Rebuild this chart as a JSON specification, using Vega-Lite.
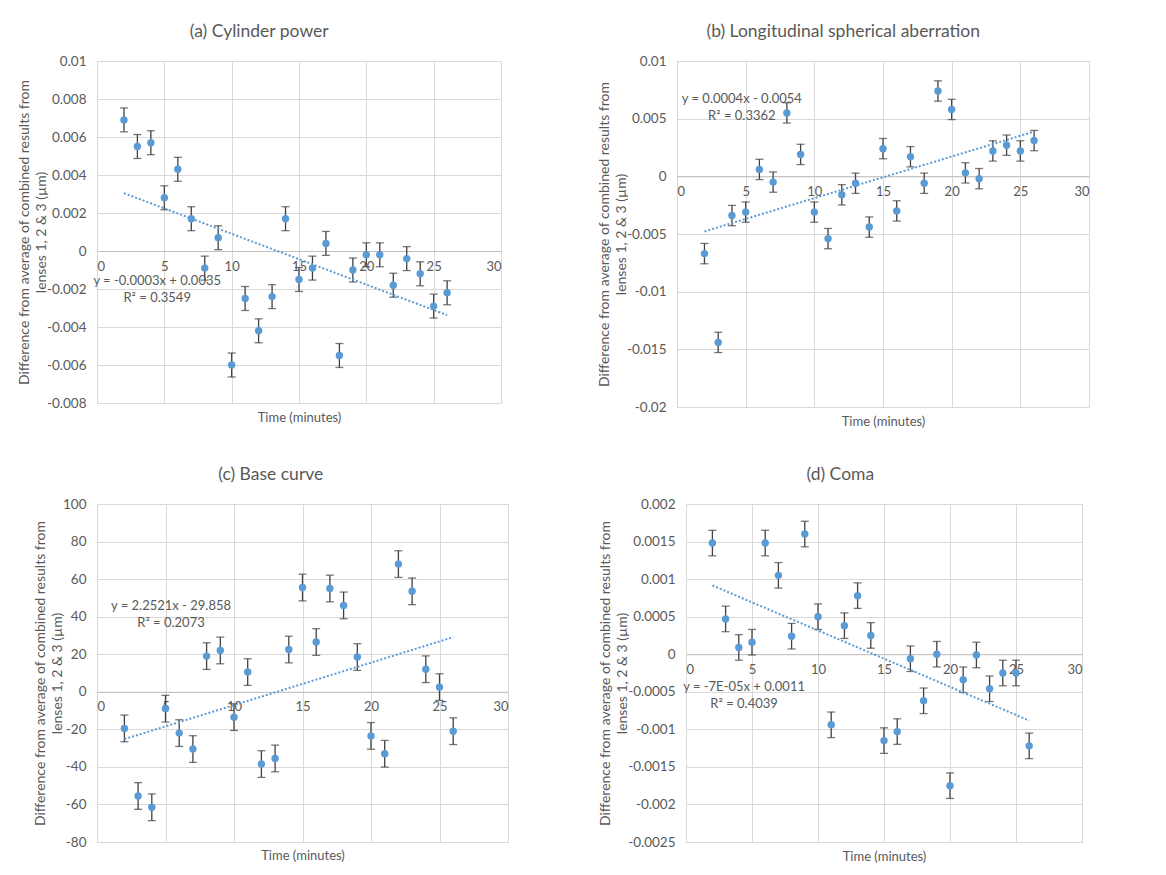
{
  "$schema": "https://vega.github.io/schema/vega-lite/v6.json",
  "background": "white",
  "padding": {"left": 16, "top": 22, "right": 5, "bottom": 5},
  "datasets": {
    "a": [
      {"t": 2, "v": 0.0069, "e": 0.00063}, {"t": 3, "v": 0.0055, "e": 0.00063}, {"t": 4, "v": 0.0057, "e": 0.00063},
      {"t": 5, "v": 0.0028, "e": 0.00063}, {"t": 6, "v": 0.0043, "e": 0.00063}, {"t": 7, "v": 0.0017, "e": 0.00063},
      {"t": 8, "v": -0.0009, "e": 0.00063}, {"t": 9, "v": 0.0007, "e": 0.00063}, {"t": 10, "v": -0.006, "e": 0.00063},
      {"t": 11, "v": -0.0025, "e": 0.00063}, {"t": 12, "v": -0.0042, "e": 0.00063}, {"t": 13, "v": -0.0024, "e": 0.00063},
      {"t": 14, "v": 0.0017, "e": 0.00063}, {"t": 15, "v": -0.0015, "e": 0.00063}, {"t": 16, "v": -0.0009, "e": 0.00063},
      {"t": 17, "v": 0.0004, "e": 0.00063}, {"t": 18, "v": -0.0055, "e": 0.00063}, {"t": 19, "v": -0.001, "e": 0.00063},
      {"t": 20, "v": -0.0002, "e": 0.00063}, {"t": 21, "v": -0.0002, "e": 0.00063}, {"t": 22, "v": -0.0018, "e": 0.00063},
      {"t": 23, "v": -0.0004, "e": 0.00063}, {"t": 24, "v": -0.0012, "e": 0.00063}, {"t": 25, "v": -0.0029, "e": 0.00063},
      {"t": 26, "v": -0.0022, "e": 0.00063}
    ],
    "b": [
      {"t": 2, "v": -0.0067, "e": 0.00088}, {"t": 3, "v": -0.0144, "e": 0.00088}, {"t": 4, "v": -0.0034, "e": 0.00088},
      {"t": 5, "v": -0.0031, "e": 0.00088}, {"t": 6, "v": 0.0006, "e": 0.00088}, {"t": 7, "v": -0.0005, "e": 0.00088},
      {"t": 8, "v": 0.0055, "e": 0.00088}, {"t": 9, "v": 0.0019, "e": 0.00088}, {"t": 10, "v": -0.0031, "e": 0.00088},
      {"t": 11, "v": -0.0054, "e": 0.00088}, {"t": 12, "v": -0.0016, "e": 0.00088}, {"t": 13, "v": -0.0006, "e": 0.00088},
      {"t": 14, "v": -0.0044, "e": 0.00088}, {"t": 15, "v": 0.0024, "e": 0.00088}, {"t": 16, "v": -0.003, "e": 0.00088},
      {"t": 17, "v": 0.0017, "e": 0.00088}, {"t": 18, "v": -0.0006, "e": 0.00088}, {"t": 19, "v": 0.0074, "e": 0.00088},
      {"t": 20, "v": 0.0058, "e": 0.00088}, {"t": 21, "v": 0.0003, "e": 0.00088}, {"t": 22, "v": -0.0002, "e": 0.00088},
      {"t": 23, "v": 0.0022, "e": 0.00088}, {"t": 24, "v": 0.0027, "e": 0.00088}, {"t": 25, "v": 0.0022, "e": 0.00088},
      {"t": 26, "v": 0.0031, "e": 0.00088}
    ],
    "c": [
      {"t": 2, "v": -19.5, "e": 7.1}, {"t": 3, "v": -55.5, "e": 7.1}, {"t": 4, "v": -61.5, "e": 7.1},
      {"t": 5, "v": -9, "e": 7.1}, {"t": 6, "v": -22, "e": 7.1}, {"t": 7, "v": -30.5, "e": 7.1},
      {"t": 8, "v": 19, "e": 7.1}, {"t": 9, "v": 22, "e": 7.1}, {"t": 10, "v": -13.5, "e": 7.1},
      {"t": 11, "v": 10.5, "e": 7.1}, {"t": 12, "v": -38.5, "e": 7.1}, {"t": 13, "v": -35.5, "e": 7.1},
      {"t": 14, "v": 22.5, "e": 7.1}, {"t": 15, "v": 55.5, "e": 7.1}, {"t": 16, "v": 26.5, "e": 7.1},
      {"t": 17, "v": 55, "e": 7.1}, {"t": 18, "v": 46, "e": 7.1}, {"t": 19, "v": 18.5, "e": 7.1},
      {"t": 20, "v": -23.5, "e": 7.1}, {"t": 21, "v": -33, "e": 7.1}, {"t": 22, "v": 68, "e": 7.1},
      {"t": 23, "v": 53.5, "e": 7.1}, {"t": 24, "v": 12, "e": 7.1}, {"t": 25, "v": 2.5, "e": 7.1},
      {"t": 26, "v": -21, "e": 7.1}
    ],
    "d": [
      {"t": 2, "v": 0.00148, "e": 0.00017}, {"t": 3, "v": 0.00047, "e": 0.00017}, {"t": 4, "v": 0.00009, "e": 0.00017},
      {"t": 5, "v": 0.00016, "e": 0.00017}, {"t": 6, "v": 0.00148, "e": 0.00017}, {"t": 7, "v": 0.00105, "e": 0.00017},
      {"t": 8, "v": 0.00024, "e": 0.00017}, {"t": 9, "v": 0.0016, "e": 0.00017}, {"t": 10, "v": 0.0005, "e": 0.00017},
      {"t": 11, "v": -0.00094, "e": 0.00017}, {"t": 12, "v": 0.00038, "e": 0.00017}, {"t": 13, "v": 0.00078, "e": 0.00017},
      {"t": 14, "v": 0.00025, "e": 0.00017}, {"t": 15, "v": -0.00115, "e": 0.00017}, {"t": 16, "v": -0.00103, "e": 0.00017},
      {"t": 17, "v": -0.00006, "e": 0.00017}, {"t": 18, "v": -0.00062, "e": 0.00017}, {"t": 19, "v": 0.0, "e": 0.00017},
      {"t": 20, "v": -0.00175, "e": 0.00017}, {"t": 21, "v": -0.00034, "e": 0.00017}, {"t": 22, "v": -0.00001, "e": 0.00017},
      {"t": 23, "v": -0.00046, "e": 0.00017}, {"t": 24, "v": -0.00025, "e": 0.00017}, {"t": 25, "v": -0.00025, "e": 0.00017},
      {"t": 26, "v": -0.00122, "e": 0.00017}
    ],
    "one": [{"k": 1}]
  },
  "vconcat": [
    {
      "spacing": 94,
      "hconcat": [
        {
          "width": 404, "height": 342,
          "title": "(a) Cylinder power",
          "layer": [
            {"data": {"name": "a"}, "mark": {"type": "errorbar", "ticks": {"size": 8, "thickness": 1.3}, "color": "#404040", "thickness": 1.3},
              "encoding": {
                "x": {"field": "t", "type": "quantitative", "scale": {"domain": [0, 30]},
                  "axis": {"values": [0, 5, 10, 15, 20, 25, 30], "offset": -152, "domain": true, "title": "Time (minutes)", "titleBaseline": "middle", "titleY": 166}},
                "y": {"field": "v", "type": "quantitative", "scale": {"domain": [-0.008, 0.01]},
                  "axis": {"values": [-0.008, -0.006, -0.004, -0.002, 0, 0.002, 0.004, 0.006, 0.008, 0.01], "title": ["Difference from average of combined results from", "lenses 1, 2 & 3 (µm)"]}},
                "yError": {"field": "e"}}},
            {"data": {"name": "a"}, "mark": {"type": "point", "filled": true, "opacity": 1, "size": 55, "color": "#5B9BD5"},
              "encoding": {"x": {"field": "t", "type": "quantitative"}, "y": {"field": "v", "type": "quantitative"}}},
            {"data": {"name": "a"}, "transform": [{"regression": "v", "on": "t"}], "mark": {"type": "line", "color": "#5B9BD5", "strokeDash": [2, 2], "strokeWidth": 2},
              "encoding": {"x": {"field": "t", "type": "quantitative"}, "y": {"field": "v", "type": "quantitative"}}},
            {"data": {"name": "one"}, "mark": {"type": "text", "fontSize": 13, "color": "#595959", "lineHeight": 17, "text": ["y = -0.0003x + 0.0035", "R² = 0.3549"]},
              "encoding": {"x": {"datum": 4.47}, "y": {"datum": -0.0016}}}
          ]
        },
        {
          "width": 412, "height": 346,
          "title": "(b) Longitudinal spherical aberration",
          "layer": [
            {"data": {"name": "b"}, "mark": {"type": "errorbar", "ticks": {"size": 8, "thickness": 1.3}, "color": "#404040", "thickness": 1.3},
              "encoding": {
                "x": {"field": "t", "type": "quantitative", "scale": {"domain": [0, 30]},
                  "axis": {"values": [0, 5, 10, 15, 20, 25, 30], "offset": -230.7, "domain": true, "title": "Time (minutes)", "titleBaseline": "middle", "titleY": 245}},
                "y": {"field": "v", "type": "quantitative", "scale": {"domain": [-0.02, 0.01]},
                  "axis": {"values": [-0.02, -0.015, -0.01, -0.005, 0, 0.005, 0.01], "title": ["Difference from average of combined results from", "lenses 1, 2 & 3 (µm)"]}},
                "yError": {"field": "e"}}},
            {"data": {"name": "b"}, "mark": {"type": "point", "filled": true, "opacity": 1, "size": 55, "color": "#5B9BD5"},
              "encoding": {"x": {"field": "t", "type": "quantitative"}, "y": {"field": "v", "type": "quantitative"}}},
            {"data": {"name": "b"}, "transform": [{"regression": "v", "on": "t"}], "mark": {"type": "line", "color": "#5B9BD5", "strokeDash": [2, 2], "strokeWidth": 2},
              "encoding": {"x": {"field": "t", "type": "quantitative"}, "y": {"field": "v", "type": "quantitative"}}},
            {"data": {"name": "one"}, "mark": {"type": "text", "fontSize": 13, "color": "#595959", "lineHeight": 17, "text": ["y = 0.0004x - 0.0054", "R² = 0.3362"]},
              "encoding": {"x": {"datum": 4.72}, "y": {"datum": 0.0067}}}
          ]
        }
      ]
    },
    {
      "spacing": 89,
      "hconcat": [
        {
          "width": 411, "height": 338,
          "title": "(c) Base curve",
          "layer": [
            {"data": {"name": "c"}, "mark": {"type": "errorbar", "ticks": {"size": 8, "thickness": 1.3}, "color": "#404040", "thickness": 1.3},
              "encoding": {
                "x": {"field": "t", "type": "quantitative", "scale": {"domain": [0, 30]},
                  "axis": {"values": [0, 5, 10, 15, 20, 25, 30], "offset": -150.2, "domain": true, "title": "Time (minutes)", "titleBaseline": "middle", "titleY": 164}},
                "y": {"field": "v", "type": "quantitative", "scale": {"domain": [-80, 100]},
                  "axis": {"values": [-80, -60, -40, -20, 0, 20, 40, 60, 80, 100], "title": ["Difference from average of combined results from", "lenses 1, 2 & 3 (µm)"]}},
                "yError": {"field": "e"}}},
            {"data": {"name": "c"}, "mark": {"type": "point", "filled": true, "opacity": 1, "size": 55, "color": "#5B9BD5"},
              "encoding": {"x": {"field": "t", "type": "quantitative"}, "y": {"field": "v", "type": "quantitative"}}},
            {"data": {"name": "c"}, "transform": [{"regression": "v", "on": "t"}], "mark": {"type": "line", "color": "#5B9BD5", "strokeDash": [2, 2], "strokeWidth": 2},
              "encoding": {"x": {"field": "t", "type": "quantitative"}, "y": {"field": "v", "type": "quantitative"}}},
            {"data": {"name": "one"}, "mark": {"type": "text", "fontSize": 13, "color": "#595959", "lineHeight": 17, "text": ["y = 2.2521x - 29.858", "R² = 0.2073"]},
              "encoding": {"x": {"datum": 5.4}, "y": {"datum": 45.7}}}
          ]
        },
        {
          "width": 396, "height": 338,
          "title": "(d) Coma",
          "layer": [
            {"data": {"name": "d"}, "mark": {"type": "errorbar", "ticks": {"size": 8, "thickness": 1.3}, "color": "#404040", "thickness": 1.3},
              "encoding": {
                "x": {"field": "t", "type": "quantitative", "scale": {"domain": [0, 30]},
                  "axis": {"values": [0, 5, 10, 15, 20, 25, 30], "offset": -187.8, "domain": true, "title": "Time (minutes)", "titleBaseline": "middle", "titleY": 202}},
                "y": {"field": "v", "type": "quantitative", "scale": {"domain": [-0.0025, 0.002]},
                  "axis": {"values": [-0.0025, -0.002, -0.0015, -0.001, -0.0005, 0, 0.0005, 0.001, 0.0015, 0.002], "title": ["Difference from average of combined results from", "lenses 1, 2 & 3 (µm)"]}},
                "yError": {"field": "e"}}},
            {"data": {"name": "d"}, "mark": {"type": "point", "filled": true, "opacity": 1, "size": 55, "color": "#5B9BD5"},
              "encoding": {"x": {"field": "t", "type": "quantitative"}, "y": {"field": "v", "type": "quantitative"}}},
            {"data": {"name": "d"}, "transform": [{"regression": "v", "on": "t"}], "mark": {"type": "line", "color": "#5B9BD5", "strokeDash": [2, 2], "strokeWidth": 2},
              "encoding": {"x": {"field": "t", "type": "quantitative"}, "y": {"field": "v", "type": "quantitative"}}},
            {"data": {"name": "one"}, "mark": {"type": "text", "fontSize": 13, "color": "#595959", "lineHeight": 17, "text": ["y = -7E-05x + 0.0011", "R² = 0.4039"]},
              "encoding": {"x": {"datum": 4.4}, "y": {"datum": -0.00043}}}
          ]
        }
      ]
    }
  ],
  "spacing": 36,
  "config": {
    "font": "Lato",
    "view": {"stroke": "#D9D9D9"},
    "title": {"fontSize": 17.5, "fontWeight": "normal", "color": "#595959", "offset": 14, "frame": "bounds", "anchor": "middle"},
    "axis": {
      "labelColor": "#595959", "titleColor": "#595959", "labelFontSize": 13.5, "titleFontSize": 14,
      "titleFontWeight": "normal", "gridColor": "#D9D9D9", "ticks": false, "domain": false,
      "domainColor": "#BFBFBF", "labelPadding": 11, "titlePadding": -2, "titleLineHeight": 17,
      "labelOverlap": false, "labelBound": false, "tickCount": 20,
      "labelExpr": "replace(format(datum.value, '~g'), '\u2212', '-')"
    },
    "axisX": {"labelPadding": 9, "titleFontSize": 13, "labelFontSize": 13}
  }
}
